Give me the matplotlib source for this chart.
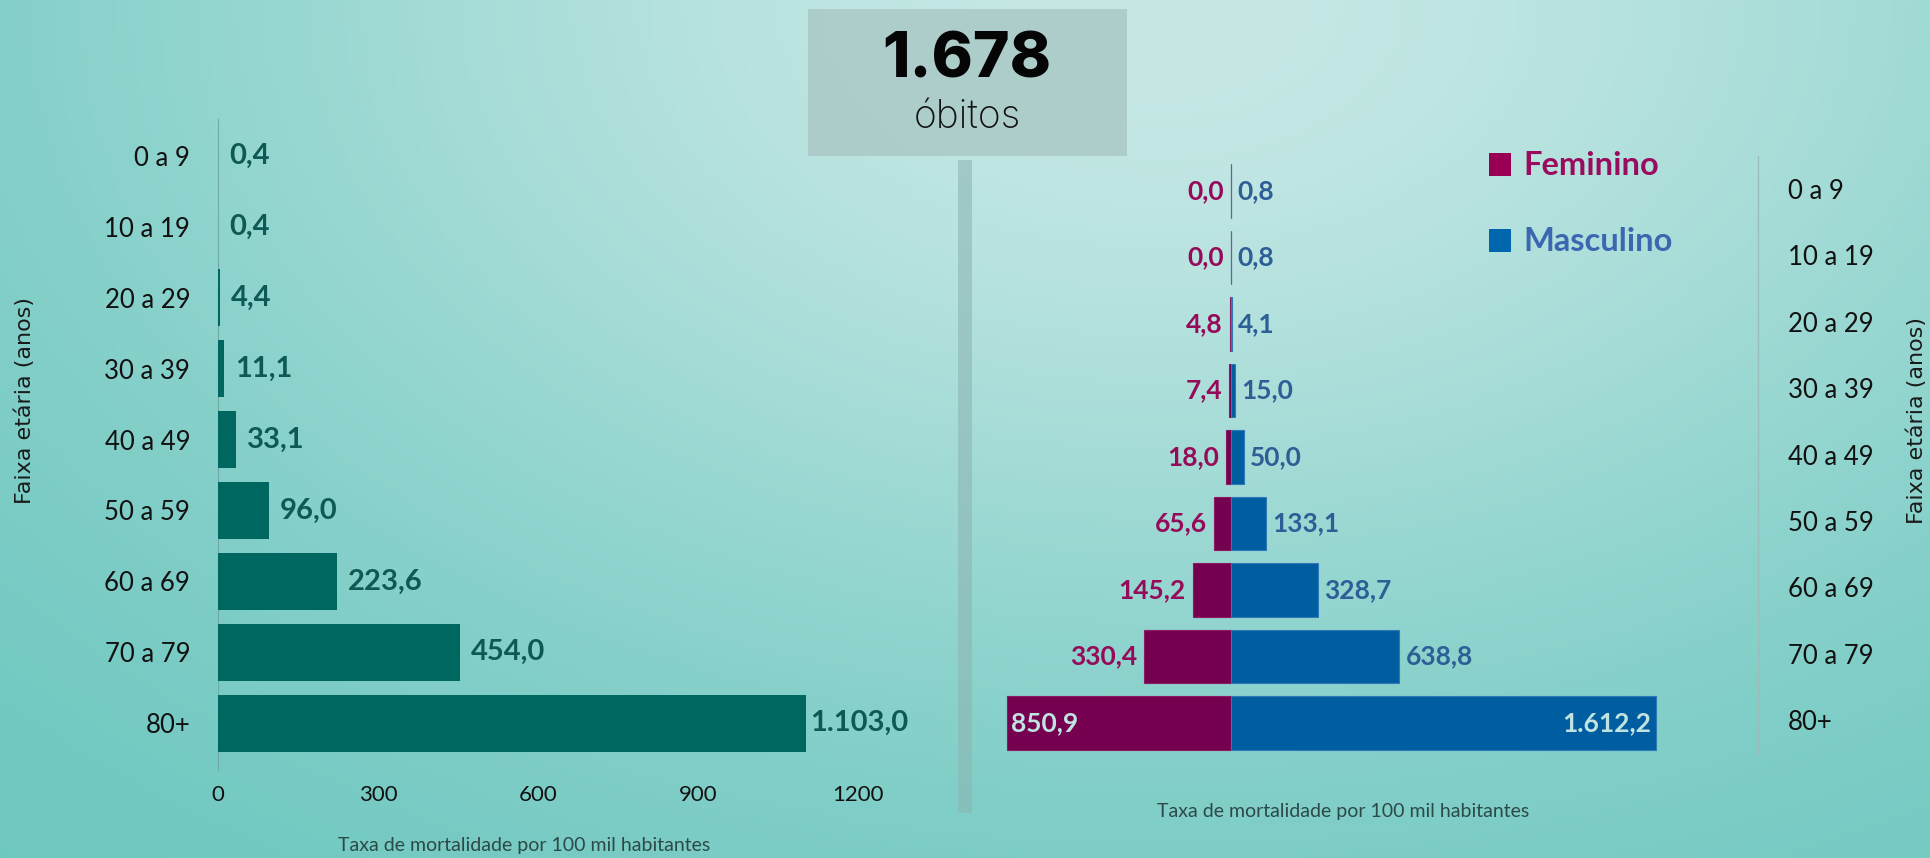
import numpy as np
import matplotlib
matplotlib.use("Agg")
import matplotlib.pyplot as plt
from matplotlib.lines import Line2D
from matplotlib.patches import Rectangle
import matplotlib.transforms as mtransforms

# ---------------- data ----------------
categories = ["0 a 9", "10 a 19", "20 a 29", "30 a 39", "40 a 49",
              "50 a 59", "60 a 69", "70 a 79", "80+"]
total_rate = [0.4, 0.4, 4.4, 11.1, 33.1, 96.0, 223.6, 454.0, 1103.0]
female_rate = [0.0, 0.0, 4.8, 7.4, 18.0, 65.6, 145.2, 330.4, 850.9]
male_rate = [0.8, 0.8, 4.1, 15.0, 50.0, 133.1, 328.7, 638.8, 1612.2]
x_ticks_left = [0, 300, 600, 900, 1200]
total_deaths = "1.678"
deaths_word = "óbitos"
xlabel = "Taxa de mortalidade por 100 mil habitantes"
ylabel = "Faixa etária (anos)"
legend_labels = ["Feminino", "Masculino"]

FONT = ["Lato", "DejaVu Sans"]
plt.rcParams['font.family'] = FONT

W, H = 1931, 858
fig = plt.figure(figsize=(W / 100, H / 100), dpi=100)

def fx(px):
    return px / W

def fy(py):
    return 1 - py / H

# ---------------- background gradient ----------------
bg = fig.add_axes([0, 0, 1, 1], zorder=-10)
xs = np.linspace(0, 1, 400)
ts = np.linspace(0, 1, 200)
X, T = np.meshgrid(xs, ts)
w = np.exp(-((X - 0.6) / 0.55) ** 2 - (T / 0.8) ** 2)
light = np.array([198, 232, 229]) / 255
dark = np.array([106, 198, 190]) / 255
img = dark[None, None, :] * (1 - w[..., None]) + light[None, None, :] * w[..., None]
bg.imshow(img, aspect="auto", extent=[0, 1, 0, 1], origin="upper")
bg.set_axis_off()

# ---------------- title box ----------------
fig.patches.append(Rectangle((fx(808), fy(156)), fx(1127) - fx(808), fy(9) - fy(156),
                             transform=fig.transFigure, facecolor="#a9c9c6", alpha=0.85,
                             edgecolor="none", zorder=1))
fig.text(fx(967), fy(78), total_deaths, ha="center", va="baseline", fontsize=45,
         fontweight="heavy", color="#050505", family=["Inter", "Lato", "DejaVu Sans"], zorder=2)
fig.text(fx(967), fy(128), deaths_word, ha="center", va="baseline", fontsize=28,
         fontweight="light", color="#111111", family=["Inter", "Lato", "DejaVu Sans"], zorder=2)

# separator bar
fig.patches.append(Rectangle((fx(958), fy(813)), fx(972) - fx(958), fy(160) - fy(813),
                             transform=fig.transFigure, facecolor="#8db6b3", alpha=0.6,
                             edgecolor="none", zorder=1))

# ---------------- left chart ----------------
ax1 = fig.add_axes([fx(218), fy(770), fx(858) - fx(218), fy(119) - fy(770)])
ax1.set_facecolor("none")
y = np.arange(len(categories))
ax1.barh(y, total_rate, height=0.8, color="#006660", zorder=3)
ax1.set_xlim(0, 1200)
ax1.set_ylim(8.66, -0.52)
ax1.set_yticks(y)
ax1.set_yticklabels(categories, fontsize=18.5, color="#111111")
ax1.set_xticks(x_ticks_left)
ax1.set_xticklabels([str(v) for v in x_ticks_left], fontsize=16, color="#111111")
ax1.tick_params(axis="both", length=0)
ax1.tick_params(axis="y", pad=20)
ax1.tick_params(axis="x", pad=11)
for s in ["top", "right", "bottom"]:
    ax1.spines[s].set_visible(False)
ax1.spines["left"].set_color("#6fa9a4")
ax1.spines["left"].set_linewidth(0.8)

def fmt(v):
    s = f"{v:,.1f}"
    return s.replace(",", "X").replace(".", ",").replace("X", ".")

off1 = mtransforms.offset_copy(ax1.transData, fig=fig, x=11, y=0, units="dots")
off1_last = mtransforms.offset_copy(ax1.transData, fig=fig, x=4, y=0, units="dots")
for yi, v in zip(y, total_rate):
    ax1.text(v, yi, fmt(v), transform=off1_last if yi == len(categories) - 1 else off1,
             ha="left", va="center", fontsize=21,
             fontweight="bold", color="#0d5a55", zorder=4)

fig.text(fx(524), fy(846), xlabel, ha="center", va="center", fontsize=14, color="#2c4a48")
fig.text(fx(25), fy(400), ylabel, ha="center", va="center", rotation=90, fontsize=16,
         color="#1a1a1a", family=["DejaVu Sans"])

# ---------------- right chart ----------------
ax2 = fig.add_axes([fx(1000), fy(770), fx(1700) - fx(1000), fy(150) - fy(770)])
ax2.set_facecolor("none")
ax2.barh(y, [-v for v in female_rate], height=0.8, color="#760050", edgecolor="#8a1a62",
         linewidth=0.8, zorder=3)
ax2.barh(y, male_rate, height=0.8, color="#005ea0", edgecolor="#2f79b8",
         linewidth=0.8, zorder=3)
ax2.set_xlim(-(1231 - 1000) / 0.2636, (1700 - 1231) / 0.2636)
ax2.set_ylim(8.707, -0.617)
ax2.set_axis_off()

offL = mtransforms.offset_copy(ax2.transData, fig=fig, x=-7, y=0, units="dots")
offR = mtransforms.offset_copy(ax2.transData, fig=fig, x=6, y=0, units="dots")
offLin = mtransforms.offset_copy(ax2.transData, fig=fig, x=4, y=0, units="dots")
offRin = mtransforms.offset_copy(ax2.transData, fig=fig, x=-5, y=0, units="dots")
last = len(categories) - 1
for yi, f, m in zip(y, female_rate, male_rate):
    if yi == last:
        ax2.text(-f, yi, fmt(f), transform=offLin, ha="left", va="center", fontsize=19,
                 fontweight="bold", color="#bfe3e0", zorder=4)
        ax2.text(m, yi, fmt(m), transform=offRin, ha="right", va="center", fontsize=19,
                 fontweight="bold", color="#bfe3e0", zorder=4)
    else:
        ax2.text(-f, yi, fmt(f), transform=offL, ha="right", va="center", fontsize=19,
                 fontweight="bold", color="#960a5a", zorder=4)
        ax2.text(m, yi, fmt(m), transform=offR, ha="left", va="center", fontsize=19,
                 fontweight="bold", color="#2e5e96", zorder=4)

# right category labels
blend = mtransforms.blended_transform_factory(fig.transFigure, ax2.transData)
for yi, c in zip(y, categories):
    ax2.text(fx(1788), yi, c, transform=blend, ha="left", va="center", fontsize=18.5,
             color="#111111", clip_on=False)
fig.add_artist(Line2D([fx(1758), fx(1758)], [fy(755), fy(156)], transform=fig.transFigure,
                      color="#9dbdba", linewidth=1.0))

fig.text(fx(1343), fy(812), xlabel, ha="center", va="center", fontsize=14, color="#2c4a48")
fig.text(fx(1917), fy(420), ylabel, ha="center", va="center", rotation=90, fontsize=16,
         color="#1a1a1a", family=["DejaVu Sans"])

# legend
sq_colors = ["#990055", "#0066ae"]
txt_colors = ["#9b0b5d", "#3a67b0"]
for i, (lab, sc, tc) in enumerate(zip(legend_labels, sq_colors, txt_colors)):
    top = 153 + i * 76
    fig.patches.append(Rectangle((fx(1489), fy(top + 23)), fx(1511) - fx(1489), fy(top) - fy(top + 23),
                                 transform=fig.transFigure, facecolor=sc, edgecolor="none"))
    fig.text(fx(1523), fy(top + 22), lab, ha="left", va="baseline", fontsize=23.5,
             fontweight="bold", color=tc)

fig.savefig("out.png", dpi=100)
